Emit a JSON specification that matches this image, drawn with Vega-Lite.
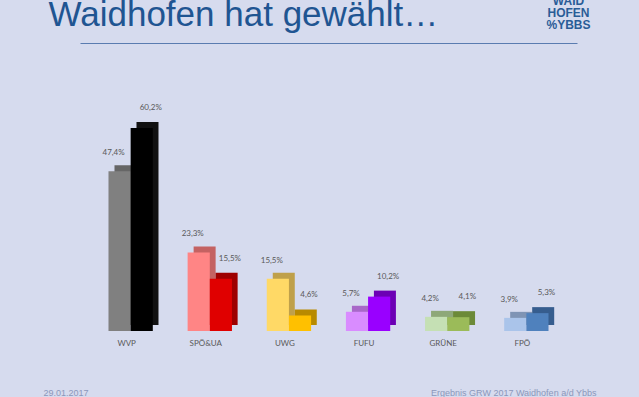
{
  "$schema": "https://vega.github.io/schema/vega-lite/v6.json",
  "width": 497,
  "height": 236,
  "autosize": {"type": "none"},
  "padding": {"left": 80, "top": 95, "right": 62, "bottom": 66},
  "background": "#d6dbee",
  "config": {
    "view": {"stroke": null},
    "font": "Lato",
    "locale": {"number": {"decimal": ",", "thousands": ".", "grouping": [3], "currency": ["", " €"]}}
  },
  "data": {
    "values": [
      {"party": "WVP", "year": "2012", "key": "WVP 2012", "share": 0.474},
      {"party": "WVP", "year": "2017", "key": "WVP 2017", "share": 0.602},
      {"party": "SPÖ&UA", "year": "2012", "key": "SPÖ&UA 2012", "share": 0.233},
      {"party": "SPÖ&UA", "year": "2017", "key": "SPÖ&UA 2017", "share": 0.155},
      {"party": "UWG", "year": "2012", "key": "UWG 2012", "share": 0.155},
      {"party": "UWG", "year": "2017", "key": "UWG 2017", "share": 0.046},
      {"party": "FUFU", "year": "2012", "key": "FUFU 2012", "share": 0.057},
      {"party": "FUFU", "year": "2017", "key": "FUFU 2017", "share": 0.102},
      {"party": "GRÜNE", "year": "2012", "key": "GRÜNE 2012", "share": 0.042},
      {"party": "GRÜNE", "year": "2017", "key": "GRÜNE 2017", "share": 0.041},
      {"party": "FPÖ", "year": "2012", "key": "FPÖ 2012", "share": 0.039},
      {"party": "FPÖ", "year": "2017", "key": "FPÖ 2017", "share": 0.053}
    ]
  },
  "layer": [
    {
      "mark": {"type": "bar", "yOffset": -6, "y2Offset": -6},
      "encoding": {
        "x": {
          "field": "party", "type": "nominal",
          "sort": ["WVP", "SPÖ&UA", "UWG", "FUFU", "GRÜNE", "FPÖ"],
          "scale": {"paddingInner": 0.44, "paddingOuter": 0.36},
          "axis": {
            "labelAngle": 0, "labelFont": "Lato", "labelFontSize": 8, "labelColor": "#595959",
            "labelPadding": 8, "labelOffset": -4, "ticks": false, "domain": false, "grid": false,
            "title": "Ergebnis GRW 2017 Waidhofen a/d Ybbs",
            "titleX": 516, "titleY": 61, "titleAlign": "right", "titleBaseline": "middle",
            "titleFont": "Liberation Sans", "titleFontSize": 9, "titleFontWeight": "normal", "titleColor": "#8b97bb"
          }
        },
        "xOffset": {"field": "year", "type": "nominal", "sort": ["2012", "2017"], "scale": {"range": [6, 50]}},
        "y": {
          "field": "share", "type": "quantitative",
          "scale": {"domain": [0, 0.7]},
          "axis": {
            "format": ".1%", "values": [0, 0.1, 0.2, 0.3, 0.4, 0.5, 0.6, 0.7],
            "labelFont": "Lato", "labelFontSize": 8, "labelColor": "#7f7f7f", "labelPadding": 4,
            "ticks": false, "domain": false, "grid": true, "gridColor": "#e4e7f4", "gridWidth": 1,
            "title": null
          }
        },
        "color": {
          "field": "key", "type": "nominal", "legend": null,
          "scale": {
            "domain": ["WVP 2012", "WVP 2017", "SPÖ&UA 2012", "SPÖ&UA 2017", "UWG 2012", "UWG 2017", "FUFU 2012", "FUFU 2017", "GRÜNE 2012", "GRÜNE 2017", "FPÖ 2012", "FPÖ 2017"],
            "range": ["#666666", "#111111", "#c46262", "#9e0000", "#bfa04a", "#b88a00", "#a868c8", "#6c00b4", "#8ea878", "#6c8a38", "#7f94b4", "#365d8e"]
          }
        }
      }
    },
    {
      "mark": {"type": "bar"},
      "encoding": {
        "x": {
          "field": "party", "type": "nominal",
          "sort": ["WVP", "SPÖ&UA", "UWG", "FUFU", "GRÜNE", "FPÖ"],
          "axis": {
            "orient": "top", "offset": 52, "labels": false, "ticks": false, "domain": true,
            "domainColor": "#5a7cb0", "domainWidth": 1.2, "grid": false,
            "title": "Waidhofen hat gewählt…", "titleX": -32, "titleY": -18, "titleAlign": "left", "titleBaseline": "alphabetic",
            "titleFont": "Liberation Sans", "titleFontSize": 35, "titleFontWeight": "normal", "titleColor": "#1f5592"
          }
        },
        "xOffset": {"field": "year", "type": "nominal", "sort": ["2012", "2017"]},
        "y": {"field": "share", "type": "quantitative", "axis": null},
        "fill": {
          "field": "key", "type": "nominal", "legend": null,
          "scale": {
            "domain": ["WVP 2012", "WVP 2017", "SPÖ&UA 2012", "SPÖ&UA 2017", "UWG 2012", "UWG 2017", "FUFU 2012", "FUFU 2017", "GRÜNE 2012", "GRÜNE 2017", "FPÖ 2012", "FPÖ 2017"],
            "range": ["#808080", "#000000", "#ff8585", "#e00000", "#ffd966", "#ffc000", "#d98cff", "#9900ff", "#c5e0b4", "#9bbb59", "#aac4ea", "#4f81bd"]
          }
        }
      }
    },
    {
      "transform": [{"filter": "datum.year == '2012'"}],
      "mark": {"type": "text", "dx": -6, "dy": -18, "baseline": "middle", "font": "Lato", "fontSize": 8, "color": "#595959"},
      "encoding": {
        "x": {
          "field": "party", "type": "nominal", "sort": ["WVP", "SPÖ&UA", "UWG", "FUFU", "GRÜNE", "FPÖ"],
          "axis": {
            "orient": "top", "offset": 0, "labels": false, "ticks": false, "domain": false, "grid": false,
            "title": ["WAID", "HOFEN", "%YBBS"], "titleX": 488, "titleY": -91,
            "titleAlign": "center", "titleBaseline": "alphabetic", "titleLineHeight": 12,
            "titleFont": "Liberation Sans", "titleFontSize": 12, "titleFontWeight": "bold", "titleColor": "#2a5d97"
          }
        },
        "xOffset": {"field": "year", "type": "nominal", "scale": {"domain": ["2012", "2017"]}},
        "y": {"field": "share", "type": "quantitative", "axis": null},
        "text": {"field": "share", "type": "quantitative", "format": ".1%"}
      }
    },
    {
      "transform": [{"filter": "datum.year == '2017'"}],
      "mark": {"type": "text", "dx": 9, "dy": -20, "baseline": "middle", "font": "Lato", "fontSize": 8, "color": "#595959"},
      "encoding": {
        "x": {
          "field": "party", "type": "nominal", "sort": ["WVP", "SPÖ&UA", "UWG", "FUFU", "GRÜNE", "FPÖ"],
          "axis": {
            "orient": "top", "offset": 0, "labels": false, "ticks": false, "domain": false, "grid": false,
            "title": "29.01.2017", "titleX": -37, "titleY": 297, "titleAlign": "left", "titleBaseline": "middle",
            "titleFont": "Liberation Sans", "titleFontSize": 9, "titleFontWeight": "normal", "titleColor": "#8b97bb"
          }
        },
        "xOffset": {"field": "year", "type": "nominal", "scale": {"domain": ["2012", "2017"]}},
        "y": {"field": "share", "type": "quantitative", "axis": null},
        "text": {"field": "share", "type": "quantitative", "format": ".1%"}
      }
    }
  ],
  "resolve": {"axis": {"x": "independent"}, "scale": {"xOffset": "independent"}}
}
